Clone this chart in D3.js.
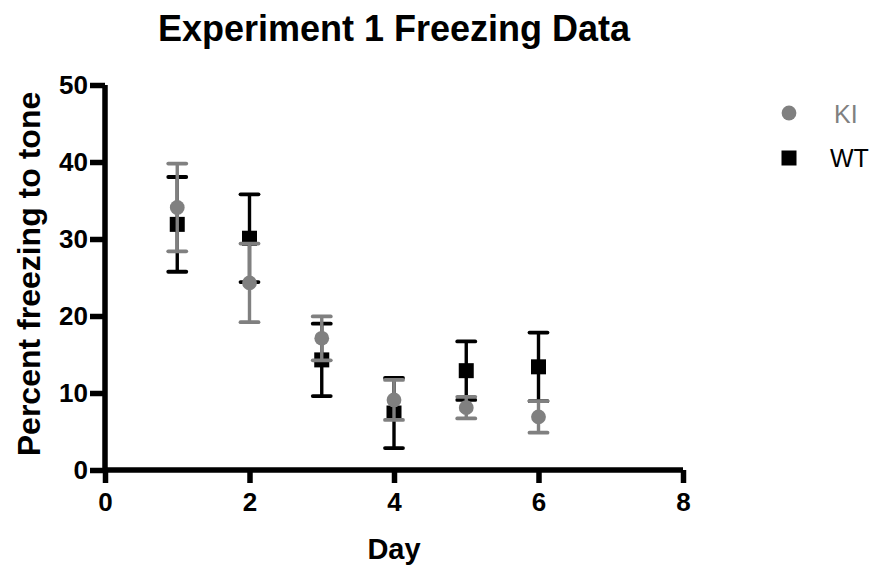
<!DOCTYPE html>
<html>
<head>
<meta charset="utf-8">
<script src="https://cdn.jsdelivr.net/npm/d3@7/dist/d3.min.js"></script>
<style>
  html, body { margin: 0; padding: 0; background: #fff; }
  svg { display: block; }
  text { font-family: "Liberation Sans", Arial, sans-serif; }
</style>
</head>
<body>
<svg id="chart" width="885" height="571"></svg>
<script>
// ---- data ----
const days = [1, 2, 3, 4, 5, 6];
const kiMean = [34.1, 24.3, 17.1, 9.1, 8.1, 6.9];
const kiSem  = [5.7, 5.1, 2.85, 2.6, 1.4, 2.05];
const wtMean = [31.9, 30.1, 14.3, 7.4, 12.9, 13.4];
const wtSem  = [6.15, 5.7, 4.7, 4.55, 3.8, 4.45];
const xTicks = [0, 2, 4, 6, 8];
const yTicks = [0, 10, 20, 30, 40, 50];
const seriesNames = ["KI", "WT"];

const svg = d3.select("#chart");
const x = d3.scaleLinear().domain([0, 8]).range([105, 683]);
const y = d3.scaleLinear().domain([0, 50]).range([470, 85]);

const GRAY = "#808080", BLACK = "#000";

// title
svg.append("text").attr("x", 394).attr("y", 41).attr("text-anchor", "middle")
  .attr("font-size", 36).attr("font-weight", "bold").text("Experiment 1 Freezing Data");

// axes
const xAxis = d3.axisBottom(x).tickValues(xTicks).tickSize(13).tickPadding(10).tickFormat(d3.format("d"));
const yAxis = d3.axisLeft(y).tickValues(yTicks).tickSize(15).tickPadding(2).tickFormat(d3.format("d"));

const gx = svg.append("g").attr("transform", `translate(0,${y(0)})`).call(xAxis);
const gy = svg.append("g").attr("transform", `translate(${x(0)},0)`).call(yAxis);
[gx, gy].forEach(g => {
  g.select(".domain").attr("stroke", BLACK).attr("stroke-width", 5.5);
  g.selectAll(".tick line").attr("stroke", BLACK).attr("stroke-width", 5.5);
  g.selectAll(".tick text").attr("fill", BLACK).attr("font-size", 26).attr("font-weight", "bold")
    .attr("font-family", "'Liberation Sans', Arial, sans-serif");
});
gx.select(".domain").attr("d", `M${x(0)},0H${x(8)}`);
gy.select(".domain").attr("d", `M0,${y(0)}V${y(50)}`);

// axis labels
svg.append("text").attr("x", 394).attr("y", 559).attr("text-anchor", "middle")
  .attr("font-size", 29).attr("font-weight", "bold").text("Day");
svg.append("text").attr("transform", `translate(40,274) rotate(-90)`)
  .attr("text-anchor", "middle").attr("font-size", 32).attr("font-weight", "bold")
  .text("Percent freezing to tone");

// series
function drawSeries(means, sems, color, shape) {
  const g = svg.append("g");
  const data = days.map((d, i) => ({ d, m: means[i], s: sems[i] }));
  const capW = 9;
  g.selectAll("line.v").data(data).join("line")
    .attr("x1", p => x(p.d)).attr("x2", p => x(p.d))
    .attr("y1", p => y(p.m + p.s)).attr("y2", p => y(p.m - p.s))
    .attr("stroke", color).attr("stroke-width", 3.4);
  ["top", "bot"].forEach(k => {
    g.selectAll("line." + k).data(data).join("line")
      .attr("x1", p => x(p.d) - capW).attr("x2", p => x(p.d) + capW)
      .attr("y1", p => y(k === "top" ? p.m + p.s : p.m - p.s))
      .attr("y2", p => y(k === "top" ? p.m + p.s : p.m - p.s))
      .attr("stroke", color).attr("stroke-width", 3.8).attr("stroke-linecap", "round");
  });
  if (shape === "circle") {
    g.selectAll("circle").data(data).join("circle")
      .attr("cx", p => x(p.d)).attr("cy", p => y(p.m)).attr("r", 7.4).attr("fill", color);
  } else {
    const s = 15;
    g.selectAll("rect").data(data).join("rect")
      .attr("x", p => x(p.d) - s / 2).attr("y", p => y(p.m) - s / 2)
      .attr("width", s).attr("height", s).attr("fill", color);
  }
}
drawSeries(wtMean, wtSem, BLACK, "square");
drawSeries(kiMean, kiSem, GRAY, "circle");

// legend
const lg = svg.append("g");
lg.append("circle").attr("cx", 789).attr("cy", 113).attr("r", 7.4).attr("fill", GRAY);
lg.append("rect").attr("x", 789 - 7.5).attr("y", 158 - 7.5).attr("width", 15).attr("height", 15).attr("fill", BLACK);
lg.append("text").attr("x", 834).attr("y", 123).attr("font-size", 25).attr("fill", GRAY).text(seriesNames[0]);
lg.append("text").attr("x", 830).attr("y", 167).attr("font-size", 25).attr("fill", BLACK).text(seriesNames[1]);
</script>
</body>
</html>
